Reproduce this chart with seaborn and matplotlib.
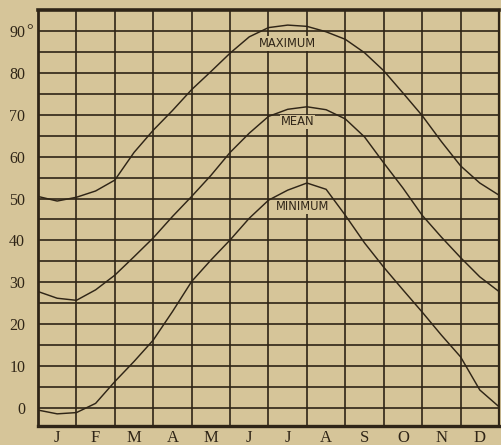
import numpy as np
import pandas as pd
import matplotlib
matplotlib.use("Agg")
import matplotlib.pyplot as plt
import seaborn as sns

# half-month positions (0 = start of January, 12 = end of December)
positions = [0, 0.5, 1, 1.5, 2, 2.5, 3, 3.5, 4, 4.5, 5, 5.5, 6, 6.5, 7, 7.5,
             8, 8.5, 9, 9.5, 10, 10.5, 11, 11.5, 12]
maximum = [50.5, 49.4, 50.3, 51.8, 54.4, 61.0, 66.3, 71.0, 76.0, 80.3, 84.7, 88.6,
           90.8, 91.4, 91.1, 89.8, 88.0, 84.8, 80.5, 75.2, 69.8, 63.6, 57.8, 53.7, 50.8]
mean = [27.8, 26.2, 25.7, 28.2, 31.7, 36.1, 40.6, 45.7, 50.5, 55.5, 61.0, 65.6,
        69.6, 71.3, 71.9, 71.2, 69.0, 64.7, 58.5, 52.5, 46.0, 40.8, 35.9, 31.3, 27.8]
minimum = [-0.5, -1.4, -1.1, 1.1, 6.3, 11.1, 16.2, 23.0, 30.2, 35.3, 40.1, 45.3,
           49.6, 52.0, 53.7, 52.2, 46.0, 39.4, 33.6, 28.2, 22.9, 17.4, 12.2, 4.3, 0.3]
series_names = ["MAXIMUM", "MEAN", "MINIMUM"]
month_labels = ["J", "F", "M", "A", "M", "J", "J", "A", "S", "O", "N", "D"]
y_ticks = [0, 10, 20, 30, 40, 50, 60, 70, 80, 90]

df = pd.concat([
    pd.DataFrame({"pos": positions, "temp": vals, "series": name})
    for name, vals in zip(series_names, [maximum, mean, minimum])
])

BG = "#d6c599"
INK = "#2f2517"
SERIF = ["Liberation Serif", "DejaVu Serif"]

sns.set_style("white", {"axes.facecolor": BG, "figure.facecolor": BG})
plt.rcParams["font.family"] = ["DejaVu Sans"]

fig = plt.figure(figsize=(5.01, 4.45), dpi=100)
ax = fig.add_axes([0.0758, 0.0427, 0.9202, 0.9348])
ax.set_facecolor(BG)

sns.lineplot(data=df, x="pos", y="temp", hue="series",
             palette={n: INK for n in series_names}, legend=False,
             linewidth=1.05, ax=ax, zorder=3)

ax.set_xlim(0, 12)
ax.set_ylim(-4.3, 95)

# grid
ax.set_xticks([i + 0.5 for i in range(12)])
ax.set_xticks(list(range(1, 12)), minor=True)
ax.set_yticks(y_ticks)
ax.set_yticks([v + 5 for v in y_ticks[:-1]], minor=True)
ax.grid(which="minor", axis="x", color=INK, linewidth=1.2)
ax.grid(which="both", axis="y", color=INK, linewidth=1.2)
ax.tick_params(which="both", length=0)

ax.set_xticklabels(month_labels, family=SERIF, fontsize=12, color=INK)
ax.set_yticklabels([str(v) for v in y_ticks], family=SERIF, fontsize=11.5, color=INK)
ax.tick_params(axis="y", pad=9.2)
ax.tick_params(axis="x", pad=3)
fig.text(26 / 501, 1 - 31 / 445, "°", ha="left", va="center",
         family=SERIF, fontsize=12, color=INK)

ax.set_xlabel("")
ax.set_ylabel("")

for side, lw in [("top", 2.6), ("left", 2.0), ("bottom", 2.4), ("right", 1.6)]:
    ax.spines[side].set_visible(True)
    ax.spines[side].set_color(INK)
    ax.spines[side].set_linewidth(lw)

# curve labels
for name, (xp, yp) in zip(series_names, [(6.5, 87.0), (6.75, 68.3), (6.9, 48.0)]):
    ax.text(xp, yp, name, ha="center", va="center", fontsize=8.3, color=INK,
            family=["DejaVu Sans"], zorder=4,
            bbox=dict(facecolor=BG, edgecolor="none", pad=0.5))

fig.savefig("out.png", dpi=100, facecolor=BG)
